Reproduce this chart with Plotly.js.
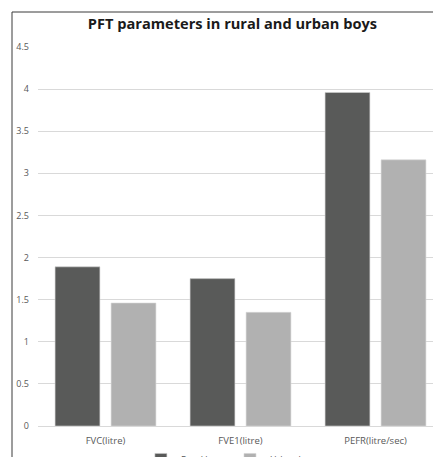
<!DOCTYPE html>
<html>
<head>
<meta charset="utf-8">
<script src="https://cdn.plot.ly/plotly-3.0.1.min.js"></script>
<style>
html, body { margin:0; padding:0; background:#fff; overflow:hidden; width:433px; height:457px; }
#chart { width:446px; height:480px; }
</style>
</head>
<body>
<div id="chart"></div>
<script>
var categories = ["FVC(litre)", "FVE1(litre)", "PEFR(litre/sec)"];
var ruralBoys = [1.89, 1.75, 3.96];
var urbanBoys = [1.46, 1.35, 3.16];
var seriesNames = ["Rural boys", "Urban boys"];
var yTicks = [0, 0.5, 1, 1.5, 2, 2.5, 3, 3.5, 4, 4.5];
var yTickText = ["0", "0.5", "1", "1.5", "2", "2.5", "3", "3.5", "4", "4.5"];

var font = "Open Sans, Noto Sans, sans-serif";
var data = [
  {type:"bar", name:seriesNames[0], x:categories, y:ruralBoys,
   marker:{color:"#595a59", line:{color:"#d0d0d0", width:0.6}}, hoverinfo:"none"},
  {type:"bar", name:seriesNames[1], x:categories, y:urbanBoys,
   marker:{color:"#b1b1b1", line:{color:"#d6d6d6", width:0.6}}, hoverinfo:"none"}
];
var fx = (12-38)/405, fy = (426-12)/379;
var layout = {
  width:446, height:480,
  margin:{l:38, r:3, t:47, b:54, autoexpand:false},
  paper_bgcolor:"#ffffff", plot_bgcolor:"#ffffff",
  barmode:"group", bargap:0.17, bargroupgap:0.2,
  showlegend:true,
  title:{text:"<b>PFT parameters in rural and urban boys</b>", font:{family:font, size:14.6, color:"#1a1a1a"},
         x:0.48, xref:"paper", xanchor:"center", y:1.045, yref:"paper", yanchor:"middle"},
  xaxis:{tickfont:{family:font, size:9.5, color:"#595959"}, showline:false, showgrid:false, ticks:"",
         ticklabelstandoff:7, fixedrange:true, automargin:false},
  yaxis:{range:[0,4.5], tickvals:yTicks, ticktext:yTickText, tickfont:{family:font, size:9, color:"#595959"},
         showgrid:true, gridcolor:"#d9d9d9", gridwidth:1, zeroline:true, zerolinecolor:"#d9d9d9", zerolinewidth:1,
         showline:false, ticks:"", ticklabelstandoff:8, fixedrange:true, automargin:false},
  legend:{orientation:"h", x:0.48, xanchor:"center", y:-0.05, yanchor:"top", bgcolor:"rgba(0,0,0,0)",
          font:{family:font, size:9, color:"#595959"}, itemwidth:30, traceorder:"normal", tracegroupgap:0},
  shapes:[
    {type:"line", xref:"paper", yref:"paper", x0:fx, x1:fx, y0:fy, y1:-0.3, line:{color:"#3a3a3a", width:1}},
    {type:"line", xref:"paper", yref:"paper", x0:fx, x1:1.2, y0:fy, y1:fy, line:{color:"#3a3a3a", width:1}}
  ]
};
Plotly.newPlot("chart", data, layout, {displayModeBar:false, staticPlot:true});
</script>
</body>
</html>
